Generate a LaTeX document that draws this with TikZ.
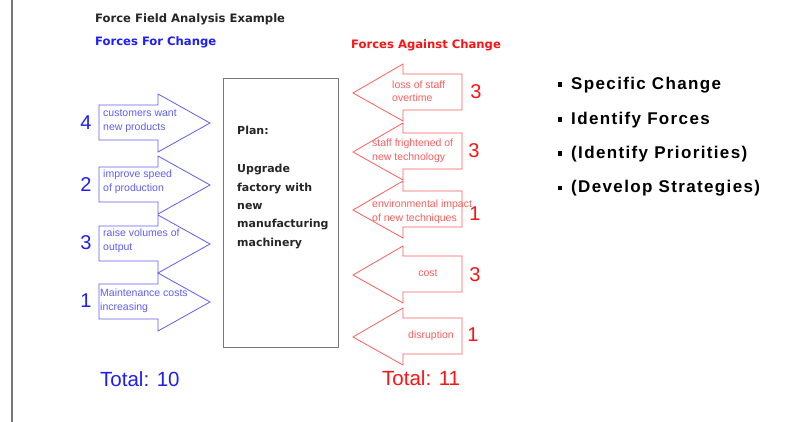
\documentclass[tikz,border=0pt]{standalone}
\usepackage{fontspec}
\setmainfont{Liberation Sans}
\newfontfamily\headfont{DejaVu Sans}
\newfontfamily\listfont[LetterSpace=8]{Liberation Sans}
\definecolor{problue}{RGB}{30,30,245}
\definecolor{prolight}{RGB}{95,95,245}
\definecolor{conred}{RGB}{250,20,20}
\definecolor{conlight}{RGB}{250,95,95}
\definecolor{framegray}{RGB}{120,120,120}
\begin{document}
\begin{tikzpicture}[x=1pt,y=-1pt,
  heading/.style={font=\headfont\bfseries\fontsize{11.6}{13}\selectfont, inner sep=0, anchor=base west},
  weight/.style={font=\fontsize{20}{22}\selectfont, inner sep=0},
  forcetext/.style={font=\fontsize{10.5}{13.5}\selectfont, inner sep=0, anchor=west, align=left},
  totaltext/.style={font=\fontsize{20.5}{22}\selectfont, inner sep=0, anchor=base west},
  listitem/.style={font=\listfont\bfseries\fontsize{17}{19}\selectfont, inner sep=0, anchor=base west},
  forarrow/.pic={\draw[prolight, line width=0.8pt, line join=miter]
      (0,-18) -- (59,-18) -- (59,-29) -- (111,0) -- (59,29) -- (59,17) -- (0,17) -- cycle;},
  againstarrow/.pic={\draw[conlight, line width=0.8pt, line join=miter]
      (0,0) -- (50,-29) -- (50,-19) -- (109,-19) -- (109,17) -- (50,17) -- (50,28) -- cycle;}
]
\useasboundingbox (0,0) rectangle (786,422);
\fill[white] (0,0) rectangle (786,422);

% left margin rule
\draw[framegray, line width=1.4pt] (12,0) -- (12,422);

% headings
\node[heading, text=black!85] (title) at (95,23) {Force Field Analysis Example};
\node[heading, text=problue] (forhead) at (95,46) {Forces For Change};
\node[heading, text=conred] (againsthead) at (351,49) {Forces Against Change};

% plan in the middle (base anchor sits on the last line)
\node[draw=framegray, line width=0.9pt, minimum width=115pt, minimum height=269pt, inner sep=0, anchor=north west] (plan) at (223,78) {};
\node[font=\headfont\bfseries\fontsize{11}{18.3}\selectfont, text=black!85, align=left, inner sep=0, anchor=base west] (plantext) at (237,246)
  {Plan:\\[20pt]Upgrade\\factory with\\new\\manufacturing\\machinery};

% forces for change
\pic at (99,123) {forarrow};
\pic at (99,185) {forarrow};
\pic at (99,244) {forarrow};
\pic at (99,302) {forarrow};
\node[forcetext, text=prolight] (f1) at (103,121) {customers want\\new products};
\node[forcetext, text=prolight] (f2) at (103,182) {improve speed\\of production};
\node[forcetext, text=prolight] (f3) at (103,241) {raise volumes of\\output};
\node[forcetext, text=prolight] (f4) at (100,301) {Maintenance costs\\increasing};
\node[weight, text=problue] (w1) at (86,123) {4};
\node[weight, text=problue] (w2) at (86,185) {2};
\node[weight, text=problue] (w3) at (86,243) {3};
\node[weight, text=problue] (w4) at (86,301) {1};

% forces against change
\pic at (353,93) {againstarrow};
\pic at (353,152) {againstarrow};
\pic at (353,210) {againstarrow};
\pic at (353,275) {againstarrow};
\pic at (353,337) {againstarrow};
\node[forcetext, text=conlight] (a1) at (392,91) {loss of staff\\overtime};
\node[forcetext, text=conlight] (a2) at (372,151) {staff frightened of\\new technology};
\node[forcetext, text=conlight] (a3) at (372,212) {environmental impact\\of new techniques};
\node[font=\fontsize{10.5}{13.5}\selectfont, text=conlight, inner sep=0] (a4) at (428,273) {cost};
\node[font=\fontsize{10.5}{13.5}\selectfont, text=conlight, inner sep=0] (a5) at (431,336) {disruption};
\node[weight, text=conred] (v1) at (476,92) {3};
\node[weight, text=conred] (v2) at (474,151) {3};
\node[weight, text=conred] (v3) at (475,214) {1};
\node[weight, text=conred] (v4) at (475,275) {3};
\node[weight, text=conred] (v5) at (473,335) {1};

% totals
\node[totaltext, text=problue] (totalfor) at (100,386) {Total: 10};
\node[totaltext, text=conred] (totalagainst) at (382,385) {Total: 11};

% steps of the analysis
\foreach \y/\txt [count=\i] in {90/Specific Change, 125/Identify Forces, 159/(Identify Priorities), 193/(Develop Strategies)} {
  \fill[black] (557.5,\y-7.5) rectangle (562,\y-3);
  \node[listitem] (step\i) at (571,\y) {\txt};
}
\end{tikzpicture}
\end{document}
